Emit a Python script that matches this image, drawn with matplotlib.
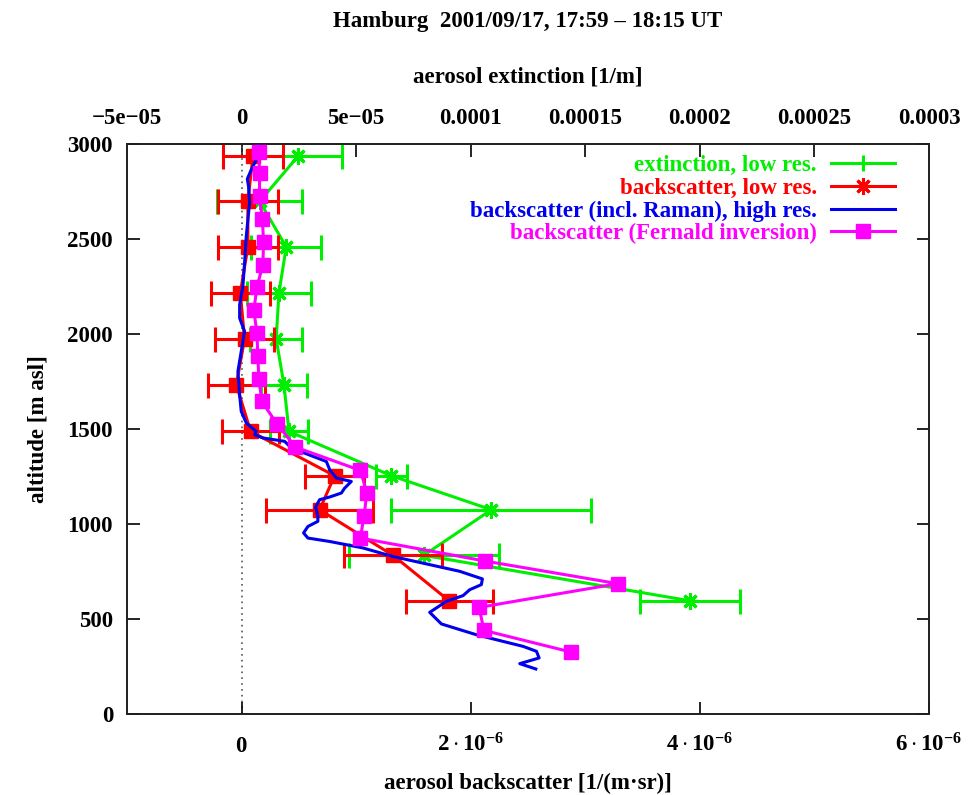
import matplotlib
matplotlib.use("Agg")
import matplotlib.pyplot as plt
from matplotlib.lines import Line2D
import numpy as np

plt.rcParams['font.family'] = ['Liberation Serif', 'DejaVu Serif']
plt.rcParams['font.weight'] = 'bold'
plt.rcParams['mathtext.fontset'] = 'custom'
plt.rcParams['mathtext.rm'] = 'Liberation Serif:bold'
plt.rcParams['mathtext.it'] = 'Liberation Serif:bold'
plt.rcParams['mathtext.bf'] = 'Liberation Serif:bold'
plt.rcParams['axes.unicode_minus'] = True

# ---- data ----
alt_low = [2935, 2698, 2458, 2216, 1974, 1733, 1487, 1254, 1075, 835, 596]
ext_low = [2.46e-5, 0.79e-5, 1.95e-5, 1.63e-5, 1.51e-5, 1.85e-5, 2.07e-5,
           6.54e-5, 10.9e-5, 7.95e-5, 19.56e-5]
ext_err = [1.94e-5, 1.86e-5, 1.53e-5, 1.38e-5, 1.14e-5, 1.0e-5, 0.83e-5,
           0.66e-5, 4.37e-5, 3.27e-5, 2.18e-5]
bsc_low = [0.099e-6, 0.055e-6, 0.055e-6, -0.011e-6, 0.026e-6, -0.046e-6,
           0.079e-6, 0.812e-6, 0.681e-6, 1.322e-6, 1.811e-6]
bsc_err = [0.26e-6, 0.26e-6, 0.26e-6, 0.26e-6, 0.255e-6, 0.25e-6, 0.25e-6,
           0.26e-6, 0.47e-6, 0.43e-6, 0.38e-6]

alt_high = [2996, 2917, 2865, 2816, 2777, 2689, 2601, 2514, 2426, 2321, 2250,
            2154, 2084, 2014, 1908, 1803, 1680, 1593, 1532, 1487, 1470, 1453,
            1435, 1400, 1356, 1329, 1286, 1242, 1224, 1189, 1163, 1142, 1128,
            1089, 1040, 1014, 987, 953, 926, 908, 874, 829, 751, 711, 681, 654,
            623, 593, 535, 474, 417, 356, 330, 295, 265, 237]
bsc_high = [0.151, 0.128, 0.085, 0.050, 0.061, 0.070, 0.055, 0.041, 0.032,
            0.020, 0.011, -0.017, -0.017, 0.026, -0.003, -0.032, -0.017,
            -0.003, 0.041, 0.128, 0.114, 0.186, 0.376, 0.434, 0.623, 0.740,
            0.769, 0.827, 0.958, 0.900, 0.871, 0.769, 0.681, 0.646, 0.666,
            0.666, 0.579, 0.541, 0.579, 0.769, 1.059, 1.321, 1.904, 2.102,
            2.093, 1.991, 1.933, 1.788, 1.642, 1.744, 2.050, 2.457, 2.574,
            2.597, 2.428, 2.568]
bsc_high = [v * 1e-6 for v in bsc_high]

alt_fern = [2959, 2847, 2728, 2605, 2486, 2365, 2247, 2124, 2005, 1882, 1763,
            1645, 1528, 1405, 1282, 1163, 1040, 926, 805, 686, 561, 440, 326]
bsc_fern = [0.151, 0.157, 0.157, 0.181, 0.192, 0.186, 0.134, 0.107, 0.134,
            0.142, 0.151, 0.177, 0.308, 0.469, 1.037, 1.094, 1.068, 1.037,
            2.125, 3.284, 2.073, 2.116, 2.876]
bsc_fern = [v * 1e-6 for v in bsc_fern]

bottom_ticks = [0, 2e-6, 4e-6, 6e-6]
bottom_labels = ['$0$', r'$2\cdot10^{-6}$', r'$4\cdot10^{-6}$', r'$6\cdot10^{-6}$']
top_ticks = [-5e-5, 0, 5e-5, 1e-4, 1.5e-4, 2e-4, 2.5e-4, 3e-4]
top_labels = ['\u22125e\u221205', '0', '5e\u221205', '0.0001', '0.00015',
              '0.0002', '0.00025', '0.0003']
y_ticks = [0, 500, 1000, 1500, 2000, 2500, 3000]

GREEN = '#00ee00'
RED = '#ff0000'
BLUE = '#0000ee'
MAG = '#ff00ff'
FS = 16.5

fig = plt.figure(figsize=(9.79, 7.95), dpi=100)
ax = fig.add_axes([127/979, 1 - 714/795, (929-127)/979, (714-144)/795])
ax2 = ax.twiny()
ax.set_zorder(ax2.get_zorder() + 1)
ax.patch.set_visible(False)

asterisk = (8, 2, 0)

# extinction on top axis
ax2.errorbar(ext_low, alt_low, xerr=ext_err, color=GREEN, lw=2.2,
             elinewidth=2.2, capsize=9, capthick=2.2, marker=asterisk,
             ms=12, mew=2.2)
ax2.set_xlim(-5e-5, 3e-4)
ax2.set_ylim(0, 3000)

ax.axvline(0, color='#555555', ls=(0, (1, 2.5)), lw=1.2, zorder=0.5)
ax.errorbar(bsc_low, alt_low, xerr=bsc_err, color=RED, lw=2.2,
            elinewidth=2.2, capsize=9, capthick=2.2, marker='s', ms=10,
            zorder=2)
ax.plot(bsc_high, alt_high, color=BLUE, lw=2.2, zorder=3)
ax.plot(bsc_fern, alt_fern, color=MAG, lw=2.2, marker='s', ms=10, zorder=4)

ax.set_xlim(-1e-6, 6e-6)
ax.set_ylim(0, 3000)

ax.set_xticks(bottom_ticks, bottom_labels, va='baseline', fontsize=FS)
ax.set_yticks(y_ticks, [str(v) for v in y_ticks], fontsize=FS)
ax2.set_xticks(top_ticks, top_labels, fontsize=FS)
ax.tick_params(axis='x', direction='in', length=9, width=1.2, pad=27)
ax.tick_params(axis='y', direction='in', length=9, width=1.2, pad=10,
               right=True)
ax2.tick_params(axis='x', direction='in', length=9, width=1.2, pad=11)
for a in (ax, ax2):
    for s in a.spines.values():
        s.set_linewidth(1.3)
        s.set_color('#222222')

ax.set_xlabel('aerosol backscatter [1/(m\u00b7sr)]', fontsize=FS,
              fontweight='bold', labelpad=12)
ax2.set_xlabel('aerosol extinction [1/m]', fontsize=FS, fontweight='bold',
               labelpad=18)
ax.set_ylabel('altitude [m asl]', fontsize=FS, fontweight='bold', labelpad=14)
fig.text(528/979, 1 - 21/795, 'Hamburg  2001/09/17, 17:59 \u2013 18:15 UT',
         ha='center', va='center', fontsize=FS, fontweight='bold')

handles = [
    Line2D([], [], color=GREEN, lw=2.2, marker='|', ms=12, mew=2.2),
    Line2D([], [], color=RED, lw=2.2, marker=asterisk, ms=12, mew=2.2),
    Line2D([], [], color=BLUE, lw=2.2),
    Line2D([], [], color=MAG, lw=2.2, marker='s', ms=10),
]
labels = ['extinction, low res.', 'backscatter, low res.',
          'backscatter (incl. Raman), high res.',
          'backscatter (Fernald inversion)']
leg = ax.legend(handles, labels, loc='upper right', frameon=False,
                markerfirst=False, labelcolor=[GREEN, RED, BLUE, MAG],
                fontsize=FS, handlelength=2.8, handletextpad=0.6,
                labelspacing=0.07, borderaxespad=0,
                bbox_to_anchor=(904/979, 1 - 146/795),
                bbox_transform=fig.transFigure, numpoints=1,
                prop={'weight': 'bold', 'size': FS})

fig.savefig('out.png', dpi=100)
